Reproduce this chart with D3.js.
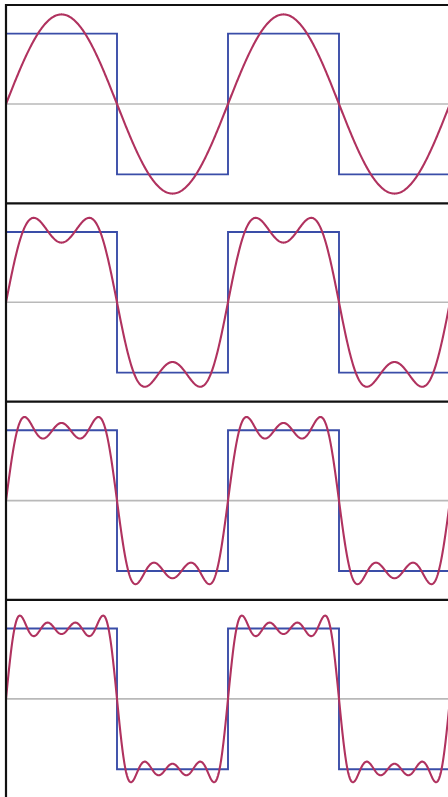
<!DOCTYPE html>
<html>
<head>
<meta charset="utf-8">
<script src="https://cdn.jsdelivr.net/npm/d3@7"></script>
<style>
	body { margin: 0; background: #fff; }
	#chart { width: 448px; height: 797px; }
</style>
</head>
<body>
<div id="chart"></div>
<script>
// odd harmonics summed in each panel
var panelHarmonics = [[1], [1, 3], [1, 3, 5], [1, 3, 5, 7]];
// amplitude of harmonic n is 1/n (times 4/pi)
var harmonicAmps = [[1], [1, 1 / 3], [1, 1 / 3, 1 / 5], [1, 1 / 3, 1 / 5, 1 / 7]];
// square wave: edges in phase (radians) and level between them
var squareEdges = [0, Math.PI, 2 * Math.PI, 3 * Math.PI, 4 * Math.PI];
var squareLevels = [1, -1, 1, -1];

const W = 448, H = 797;
const left = 6, top0 = 5, panelH = 198.3;

const svg = d3.select("#chart").append("svg")
	.attr("width", W)
	.attr("height", H);

const xScale = d3.scaleLinear()
	.domain([0, 4 * Math.PI])
	.range([left, left + 444]);

const yScale = d3.scaleLinear()
	.domain([-1.4, 1.4])
	.range([197.5, 0.5]);

svg.append("clipPath").attr("id", "clip")
	.append("rect")
	.attr("x", left)
	.attr("y", 0)
	.attr("width", W - left)
	.attr("height", panelH);

const line = d3.line()
	.x(d => xScale(d[0]))
	.y(d => yScale(d[1]))
	.curve(d3.curveLinear);

panelHarmonics.forEach(function(harm, i) {
	var g = svg.append("g")
		.attr("transform", "translate(0," + (top0 + i * panelH) + ")");
	var inner = g.append("g").attr("clip-path", "url(#clip)");

	// zero axis
	inner.append("line")
		.attr("x1", left).attr("x2", W)
		.attr("y1", yScale(0)).attr("y2", yScale(0))
		.attr("stroke", "#b9b9b9")
		.attr("stroke-width", 1.6);

	// square wave
	var sq = [];
	squareLevels.forEach(function(v, k) {
		sq.push([squareEdges[k], v]);
		sq.push([squareEdges[k + 1], v]);
	});
	inner.append("path")
		.attr("d", line(sq))
		.attr("fill", "none")
		.attr("stroke", "#3a4da8")
		.attr("stroke-width", 1.9);

	// partial fourier sum
	var xs = d3.range(0, 4 * Math.PI + 0.01, 4 * Math.PI / 900);
	var pts = xs.map(function(x) {
		var s = 0;
		harm.forEach(function(n, k) { s += harmonicAmps[i][k] * Math.sin(n * x); });
		return [x, 4 / Math.PI * s];
	});
	inner.append("path")
		.attr("d", line(pts))
		.attr("fill", "none")
		.attr("stroke", "#b0325f")
		.attr("stroke-width", 2.1);

	// panel top border
	g.append("line")
		.attr("x1", left - 1).attr("x2", W)
		.attr("y1", 0).attr("y2", 0)
		.attr("stroke", "#111")
		.attr("stroke-width", 2.2);
});

// left border
svg.append("line")
	.attr("x1", left).attr("x2", left)
	.attr("y1", top0 - 1).attr("y2", H)
	.attr("stroke", "#111")
	.attr("stroke-width", 2.2);
</script>
</body>
</html>
